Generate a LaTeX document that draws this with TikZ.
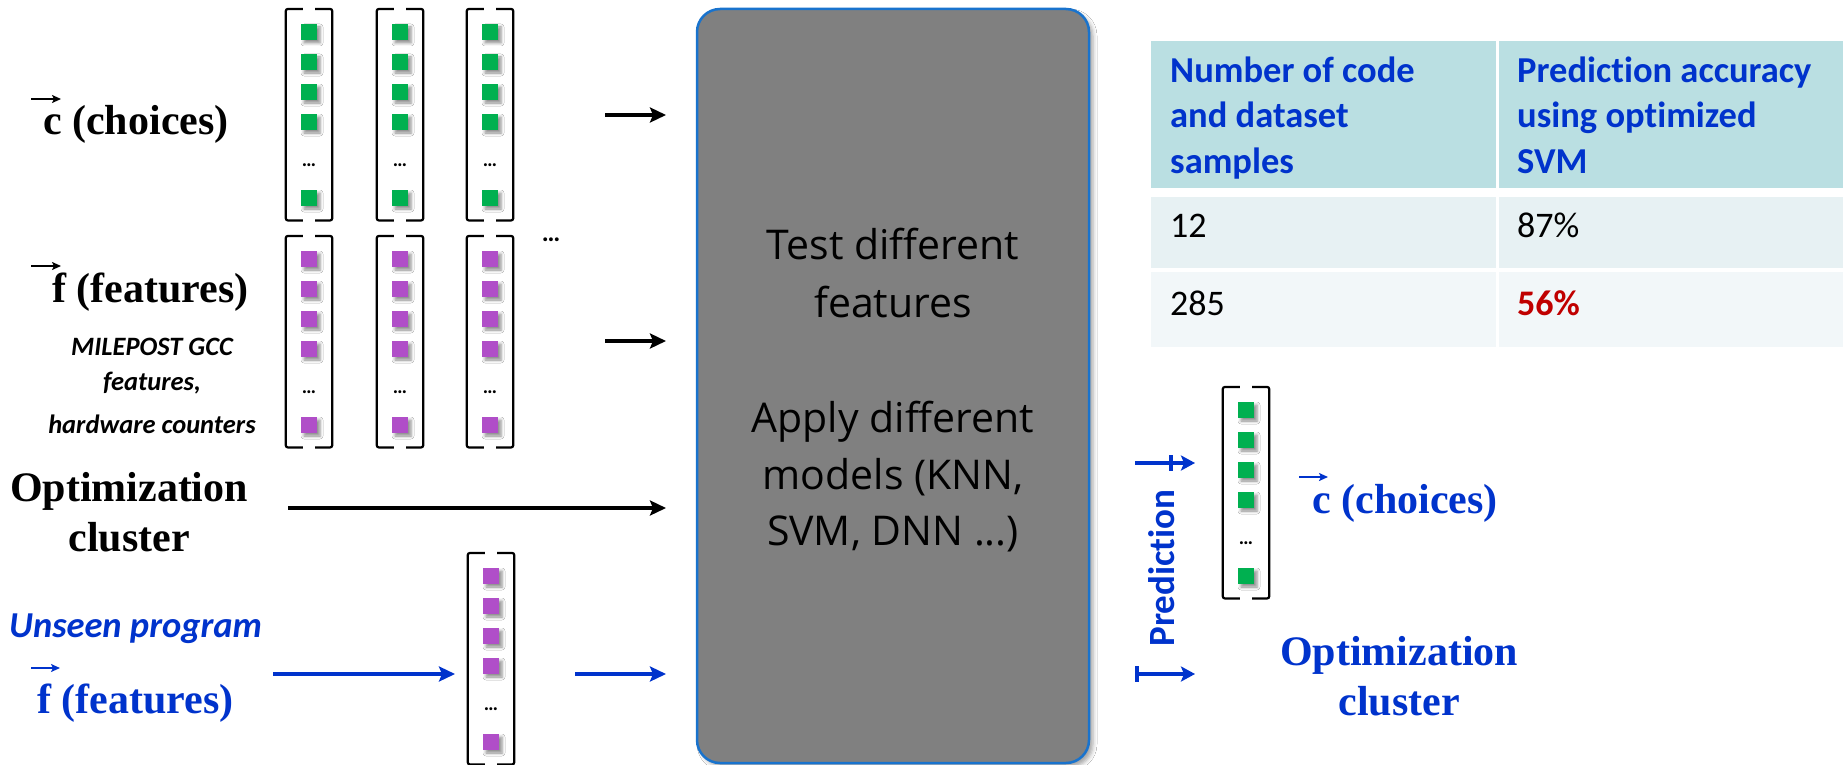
\documentclass[tikz,border=0pt]{standalone}
\usepackage{fontspec}
\setmainfont{Liberation Serif}
\newfontfamily\calibri[Ligatures=NoCommon]{Carlito}
\newfontfamily\opensans[Ligatures=NoCommon]{Open Sans}
\usetikzlibrary{arrows.meta,shadows.blur}

\definecolor{sqgreen}{RGB}{0,176,80}
\definecolor{sqpurple}{RGB}{176,78,200}
\definecolor{txtblue}{RGB}{0,51,204}
\definecolor{boxgray}{RGB}{128,128,128}
\definecolor{boxblue}{RGB}{25,115,205}
\definecolor{hdr}{RGB}{186,223,226}
\definecolor{rowa}{RGB}{231,241,243}
\definecolor{rowb}{RGB}{242,247,249}
\definecolor{accred}{RGB}{192,0,0}

\tikzset{
  sq/.style={minimum size=16pt, inner sep=0pt, draw=none,
    blur shadow={shadow xshift=3pt, shadow yshift=-3pt, shadow blur radius=3pt, shadow opacity=45}},
  gsq/.style={sq, fill=sqgreen},
  psq/.style={sq, fill=sqpurple},
  colframe/.style={minimum width=46pt, minimum height=211pt, inner sep=0pt, draw=none},
  brk/.style={line width=2.2pt, rounded corners=2pt},
  dots/.style={font=\calibri\fontsize{20}{20}\selectfont\bfseries, inner sep=0pt, anchor=base},
  bigserif/.style={font=\fontsize{42}{50}\selectfont\bfseries, inner sep=0pt},
  mile/.style={font=\calibri\fontsize{26.5}{30}\selectfont\bfseries\itshape, inner sep=0pt, anchor=base},
  boxtext/.style={font=\opensans\fontsize{41}{50}\selectfont, inner sep=0pt, anchor=base},
  hdrtext/.style={font=\calibri\fontsize{36.5}{44}\selectfont\bfseries, text=txtblue, inner sep=0pt, anchor=base west},
  celltext/.style={font=\calibri\fontsize{36}{44}\selectfont, inner sep=0pt, anchor=base west},
  cell/.style={anchor=north west, inner sep=0pt, draw=none},
  blkarrow/.style={line width=4.5pt, -{Stealth[length=16pt,width=15pt,inset=3pt]}},
  bluarrow/.style={blkarrow, color=txtblue},
  predarrow/.style={line width=4pt, color=txtblue, -{Stealth[length=14pt,width=15pt,inset=3pt]}},
  predtick/.style={line width=3.5pt, color=txtblue},
  vecarr/.style={line width=1.8pt, -{Stealth[length=9pt,width=8pt,inset=2pt]}},
}

\newcommand{\veccol}[4]{%
  \node[colframe, anchor=north] (#1) at (#2,#3) {};
  \draw[brk] ([xshift=17pt]#1.north west) -| (#1.south west) -- ([xshift=17pt]#1.south west);
  \draw[brk] ([xshift=-17pt]#1.north east) -| (#1.south east) -- ([xshift=-17pt]#1.south east);
  \foreach \o [count=\k] in {23,53,83,113,189} {\node[#4] (#1s\k) at (#2,#3+\o) {};}
  \node[dots] (#1d) at (#2,#3+157) {…};
}

\begin{document}
\begin{tikzpicture}[x=1pt,y=-1pt]
\useasboundingbox (0,0) rectangle (1843,765);
\fill[white] (0,0) rectangle (1843,765);

% ---------- left labels ----------
\node[bigserif, anchor=base west] (cch) at (43,135) {c (choices)};
\draw[vecarr] ([shift={(-12pt,36pt)}]cch.base west) -- ++(30pt,0pt);

\node[bigserif, anchor=base west] (fch) at (52,302) {f (features)};
\draw[vecarr] ([shift={(-21pt,36pt)}]fch.base west) -- ++(30pt,0pt);

\node[mile] (mp1) at (152,355) {MILEPOST GCC};
\node[mile] (mp2) at (152,390) {features,};
\node[mile] (mp3) at (152,433) {hardware counters};

\node[bigserif, anchor=base] (oc1) at (129,501) {Optimization};
\node[bigserif, anchor=base] (oc2) at (129,551) {cluster};

\node[font=\calibri\fontsize{36.5}{40}\selectfont\bfseries\itshape, text=txtblue, inner sep=0pt, anchor=base west] (unseen) at (9,637) {Unseen program};
\node[bigserif, text=txtblue, anchor=base west] (ufeat) at (37,713) {f (features)};
\draw[vecarr, color=txtblue] ([shift={(-6pt,45pt)}]ufeat.base west) -- ++(29pt,0pt);

% ---------- vector columns ----------
\veccol{g1}{309}{9}{gsq}
\veccol{g2}{400}{9}{gsq}
\veccol{g3}{490}{9}{gsq}
\veccol{p1}{309}{236}{psq}
\veccol{p2}{400}{236}{psq}
\veccol{p3}{490}{236}{psq}
\veccol{u1}{491}{553}{psq}
\veccol{r1}{1246}{387}{gsq}
\node[font=\calibri\fontsize{26}{26}\selectfont\bfseries, inner sep=0pt, anchor=base] (moredots) at (551,241) {…};

% ---------- model box ----------
\node[draw=boxblue, fill=boxgray, line width=2.5pt, rounded corners=23pt,
      minimum width=392pt, minimum height=754pt, inner sep=0pt,
      blur shadow={shadow xshift=4pt, shadow yshift=-4pt, shadow blur radius=4pt, shadow opacity=35}]
      (model) at (893,386) {};
\node[boxtext] (bt1) at (893,259) {Test different};
\node[boxtext] (bt2) at (893,317) {features};
\node[boxtext] (bt3) at (893,432) {Apply different};
\node[boxtext] (bt4) at (893,489) {models (KNN,};
\node[boxtext] (bt5) at (893,545) {SVM, DNN ...)};

% ---------- arrows ----------
\coordinate (a1s) at (605,115); \coordinate (a1e) at (666,115);
\coordinate (a2s) at (605,341); \coordinate (a2e) at (666,341);
\coordinate (a3s) at (288,508); \coordinate (a3e) at (666,508);
\coordinate (b1s) at (273,674); \coordinate (b1e) at (455,674);
\coordinate (b2s) at (575,674); \coordinate (b2e) at (666,674);
\draw[blkarrow] (a1s) -- (a1e);
\draw[blkarrow] (a2s) -- (a2e);
\draw[blkarrow] (a3s) -- (a3e);
\draw[bluarrow] (b1s) -- (b1e);
\draw[bluarrow] (b2s) -- (b2e);

% ---------- prediction ----------
\coordinate (p1s) at (1135,463); \coordinate (p1e) at (1195,463);
\coordinate (p2s) at (1135,674); \coordinate (p2e) at (1195,674);
\draw[predarrow] (p1s) -- (p1e);
\draw[predarrow] (p2s) -- (p2e);
\coordinate (t1a) at (1171,455); \coordinate (t1b) at (1171,471);
\coordinate (t2a) at (1137,666); \coordinate (t2b) at (1137,682);
\draw[predtick] (t1a) -- (t1b);
\draw[predtick] (t2a) -- (t2b);
\node[font=\calibri\fontsize{37}{40}\selectfont\bfseries, text=txtblue, rotate=90, anchor=base, inner sep=0pt] (pred) at (1174,568) {Predict\kern0pt ion};

% ---------- right labels ----------
\node[bigserif, text=txtblue, anchor=base west] (rch) at (1312,513) {c (choices)};
\draw[vecarr, color=txtblue] ([shift={(-13pt,36pt)}]rch.base west) -- ++(29pt,0pt);
\node[bigserif, text=txtblue, anchor=base] (ro1) at (1399,665) {Optimization};
\node[bigserif, text=txtblue, anchor=base] (ro2) at (1399,715) {cluster};

% ---------- table ----------
\node[cell, fill=hdr, minimum width=345pt, minimum height=147pt] (h1) at (1151,41) {};
\node[cell, fill=hdr, minimum width=344pt, minimum height=147pt] (h2) at (1499,41) {};
\node[cell, fill=rowa, minimum width=345pt, minimum height=71pt] (r1c1) at (1151,197) {};
\node[cell, fill=rowa, minimum width=344pt, minimum height=71pt] (r1c2) at (1499,197) {};
\node[cell, fill=rowb, minimum width=345pt, minimum height=75pt] (r2c1) at (1151,272) {};
\node[cell, fill=rowb, minimum width=344pt, minimum height=75pt] (r2c2) at (1499,272) {};

\node[hdrtext] (ha1) at (1170,83) {Number of code};
\node[hdrtext] (ha2) at (1170,128) {and dataset};
\node[hdrtext] (ha3) at (1170,173) {samples};
\node[hdrtext] (hb1) at (1517,83) {Predict\kern0pt ion accuracy};
\node[hdrtext] (hb2) at (1517,128) {using opt\kern0pt imized};
\node[hdrtext] (hb3) at (1517,173) {SVM};

\node[celltext] (v11) at (1170,237) {12};
\node[celltext] (v12) at (1517,237) {87\%};
\node[celltext] (v21) at (1170,315) {285};
\node[celltext, font=\calibri\fontsize{36}{44}\selectfont\bfseries, text=accred] (v22) at (1517,315) {56\%};
\end{tikzpicture}
\end{document}
